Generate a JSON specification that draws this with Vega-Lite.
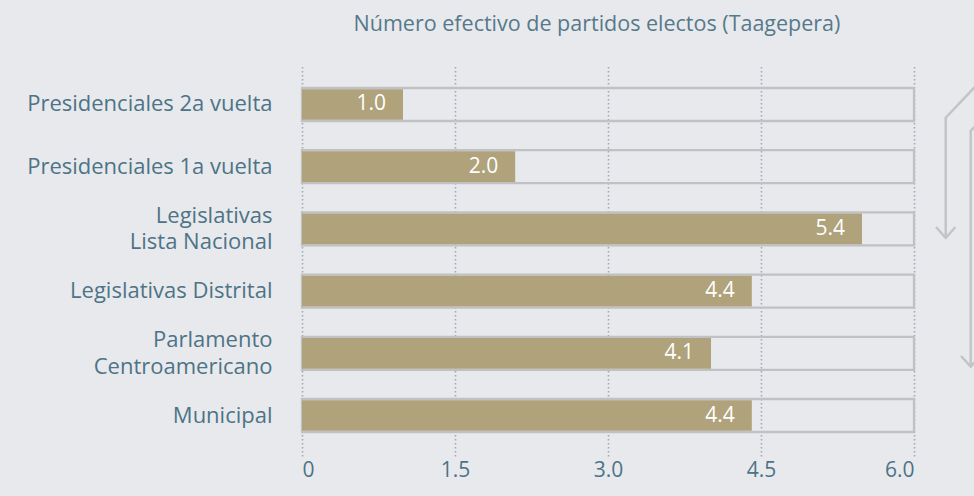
{
  "$schema": "https://vega.github.io/schema/vega-lite/v6.json",
  "width": 612,
  "height": 392,
  "autosize": {"type": "none"},
  "padding": {"left": 302, "top": 64, "right": 60, "bottom": 40},
  "background": "#e8e9ed",
  "config": {"view": {"stroke": null}, "font": "Open Sans"},
  "title": {
    "text": "Número efectivo de partidos electos (Taagepera)",
    "fontSize": 21.5,
    "font": "Open Sans",
    "fontWeight": "normal",
    "color": "#56798a",
    "offset": 29,
    "dx": -11,
    "anchor": "middle"
  },
  "datasets": {
    "rows": [
      {"cat": "Presidenciales 2a vuelta", "value": 0.99, "label": "1.0"},
      {"cat": "Presidenciales 1a vuelta", "value": 2.09, "label": "2.0"},
      {"cat": "Legislativas|Lista Nacional", "value": 5.49, "label": "5.4"},
      {"cat": "Legislativas Distrital", "value": 4.41, "label": "4.4"},
      {"cat": "Parlamento|Centroamericano", "value": 4.01, "label": "4.1"},
      {"cat": "Municipal", "value": 4.41, "label": "4.4"}
    ],
    "arrows": [
      {"seg": "a1", "ord": 1, "ax": 6.647, "ay": -0.37},
      {"seg": "a1", "ord": 2, "ax": 6.311, "ay": 0.212},
      {"seg": "a1", "ord": 3, "ax": 6.311, "ay": 2.146},
      {"seg": "h1", "ord": 1, "ax": 6.216, "ay": 1.969},
      {"seg": "h1", "ord": 2, "ax": 6.311, "ay": 2.146},
      {"seg": "h1", "ord": 3, "ax": 6.406, "ay": 1.969},
      {"seg": "a2", "ord": 1, "ax": 6.647, "ay": 0.272},
      {"seg": "a2", "ord": 2, "ax": 6.556, "ay": 0.421},
      {"seg": "a2", "ord": 3, "ax": 6.556, "ay": 4.215},
      {"seg": "h2", "ord": 1, "ax": 6.461, "ay": 4.043},
      {"seg": "h2", "ord": 2, "ax": 6.556, "ay": 4.215},
      {"seg": "h2", "ord": 3, "ax": 6.651, "ay": 4.043}
    ]
  },
  "layer": [
    {
      "data": {"name": "rows"},
      "encoding": {
        "y": {
          "field": "cat",
          "type": "nominal",
          "sort": null,
          "scale": {"paddingInner": 0.47, "paddingOuter": 0.386},
          "axis": {
            "title": null,
            "ticks": false,
            "domain": false,
            "labelPadding": 30,
            "labelFontSize": 22,
            "labelFont": "Open Sans",
            "labelFontWeight": "normal",
            "labelColor": "#4d7486",
            "labelLineHeight": 26.5,
            "labelLimit": 400,
            "labelOffset": {"condition": {"test": "indexof(datum.value, '|') >= 0", "value": -13}, "value": 0},
            "labelExpr": "split(datum.label, '|')"
          }
        }
      },
      "layer": [
        {
          "mark": {"type": "bar", "fill": "transparent", "stroke": "#c0c1c5", "strokeWidth": 2.3},
          "encoding": {
            "x": {
              "datum": 6,
              "type": "quantitative",
              "scale": {"domain": [0, 6], "nice": false, "zero": true},
              "axis": {
                "values": [0, 1.5, 3, 4.5, 6],
                "labelExpr": "datum.value == 0 ? '0' : format(datum.value, '.1f')",
                "grid": true,
                "gridDash": [1.5, 2.5],
                "gridColor": "#9eaab5",
                "gridWidth": 1.6,
                "ticks": false,
                "domain": false,
                "title": null,
                "labelFontSize": 21,
                "labelFont": "Open Sans",
                "labelFontWeight": "normal",
                "labelColor": "#4d7486",
                "labelPadding": 3
              }
            }
          }
        },
        {
          "mark": {"type": "bar", "color": "#b0a27a", "height": {"band": 0.93}},
          "encoding": {"x": {"field": "value", "type": "quantitative"}}
        },
        {
          "mark": {"type": "text", "align": "right", "baseline": "middle", "dx": -17, "color": "#ffffff", "fontSize": 21, "font": "Open Sans", "fontWeight": "normal"},
          "encoding": {
            "x": {"field": "value", "type": "quantitative"},
            "text": {"field": "label"}
          }
        }
      ]
    },
    {
      "data": {"name": "arrows"},
      "mark": {"type": "line", "color": "#c3c4c8", "strokeWidth": 2.5, "strokeJoin": "miter"},
      "encoding": {
        "x": {"field": "ax", "type": "quantitative", "scale": {"domain": [0, 6], "nice": false}},
        "y": {"field": "ay", "type": "quantitative", "scale": {"domain": [-0.651, 5.651], "reverse": true, "nice": false, "zero": false}, "axis": null},
        "detail": {"field": "seg"},
        "order": {"field": "ord"}
      }
    }
  ],
  "resolve": {"scale": {"y": "independent"}}
}
